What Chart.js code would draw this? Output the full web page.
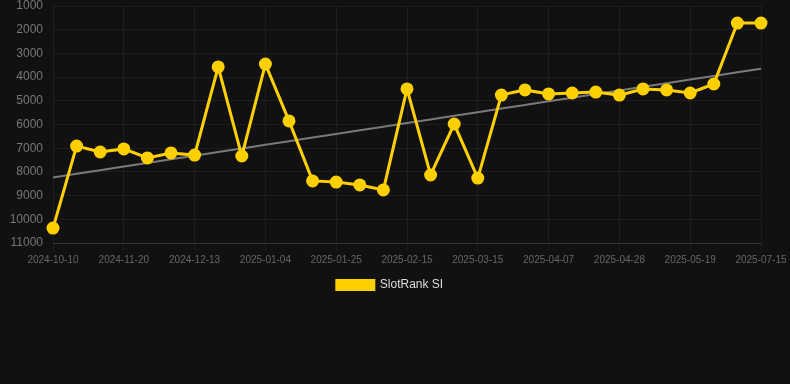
<!DOCTYPE html>
<html>
<head>
<meta charset="utf-8">
<script src="https://cdn.jsdelivr.net/npm/chart.js@4/dist/chart.umd.min.js"></script>
<style>
  html, body { margin: 0; padding: 0; background: #111111; }
  #wrap { width: 790px; height: 301px; position: relative; }
</style>
</head>
<body>
<div id="wrap"><canvas id="rankChart"></canvas></div>
<script>
const dates = [
  '2024-10-10', '2024-10-24', '2024-11-06', '2024-11-20', '2024-11-27', '2024-12-06',
  '2024-12-13', '2024-12-20', '2024-12-27', '2025-01-04', '2025-01-11', '2025-01-18',
  '2025-01-25', '2025-02-01', '2025-02-08', '2025-02-15', '2025-02-22', '2025-03-01',
  '2025-03-15', '2025-03-22', '2025-03-31', '2025-04-07', '2025-04-14', '2025-04-21',
  '2025-04-28', '2025-05-05', '2025-05-12', '2025-05-19', '2025-05-26', '2025-06-30',
  '2025-07-15'
];
const ranks = [
  10370, 6910, 7160, 7030, 7410, 7200,
  7290, 3570, 7330, 3450, 5850, 8380,
  8430, 8550, 8760, 4500, 8130, 5980,
  8260, 4760, 4540, 4710, 4670, 4630,
  4760, 4500, 4540, 4670, 4290, 1720,
  1720
];
const yTicks = [1000, 2000, 3000, 4000, 5000, 6000, 7000, 8000, 9000, 10000, 11000];

// least squares trend over the rank series
function trend(vals) {
    const n = vals.length;
    let sx = 0, sy = 0, sxy = 0, sxx = 0;
    vals.forEach((v, i) => { sx += i; sy += v; sxy += i * v; sxx += i * i; });
    const b = (n * sxy - sx * sy) / (n * sxx - sx * sx);
    const a = (sy - b * sx) / n;
    return vals.map((v, i) => a + b * i);
}

Chart.defaults.font.family = '"Liberation Sans", Arial, sans-serif';
Chart.defaults.color = '#777';

new Chart(document.getElementById('rankChart').getContext('2d'), {
    type: 'line',
    data: {
        labels: dates,
        datasets: [
            {
                label: 'SlotRank SI',
                data: ranks,
                borderColor: '#ffd000',
                backgroundColor: '#ffd000',
                borderWidth: 3,
                pointRadius: 5,
                pointHoverRadius: 6,
                tension: 0
            },
            {
                label: 'trend',
                data: trend(ranks),
                borderColor: '#7a7a7a',
                borderWidth: 2,
                pointRadius: 0,
                fill: false
            }
        ]
    },
    options: {
        responsive: true,
        maintainAspectRatio: false,
        animation: false,
        layout: { autoPadding: false, padding: { top: 0, right: 10, left: 0 } },
        scales: {
            x: {
                offset: false,
                afterFit: function(scale) { scale.paddingRight = 29; },
                grid: { color: 'rgba(255,255,255,0.05)' },
                border: { color: 'rgba(255,255,255,0.1)' },
                ticks: {
                    autoSkip: false,
                    maxRotation: 0,
                    color: '#666',
                    font: { size: 10 },
                    callback: function(val, idx) { return idx % 3 === 0 ? dates[idx] : null; }
                }
            },
            y: {
                reverse: true,
                min: yTicks[0],
                max: yTicks[yTicks.length - 1],
                afterFit: function(scale) {
                    scale.width = 53;
                    scale.paddingTop = 6;
                    scale.paddingBottom = 0;
                },
                afterBuildTicks: function(scale) { scale.ticks = yTicks.map(v => ({ value: v })); },
                grid: { color: 'rgba(255,255,255,0.05)', drawTicks: false },
                border: { display: false },
                ticks: {
                    color: '#777',
                    font: { size: 12 },
                    padding: 10,
                    callback: v => String(v)
                }
            }
        },
        plugins: {
            legend: {
                position: 'bottom',
                labels: {
                    color: '#ddd',
                    font: { size: 12 },
                    boxWidth: 37,
                    boxHeight: 9,
                    filter: item => item.datasetIndex === 0
                }
            },
            tooltip: { enabled: false }
        }
    }
});
</script>
</body>
</html>
